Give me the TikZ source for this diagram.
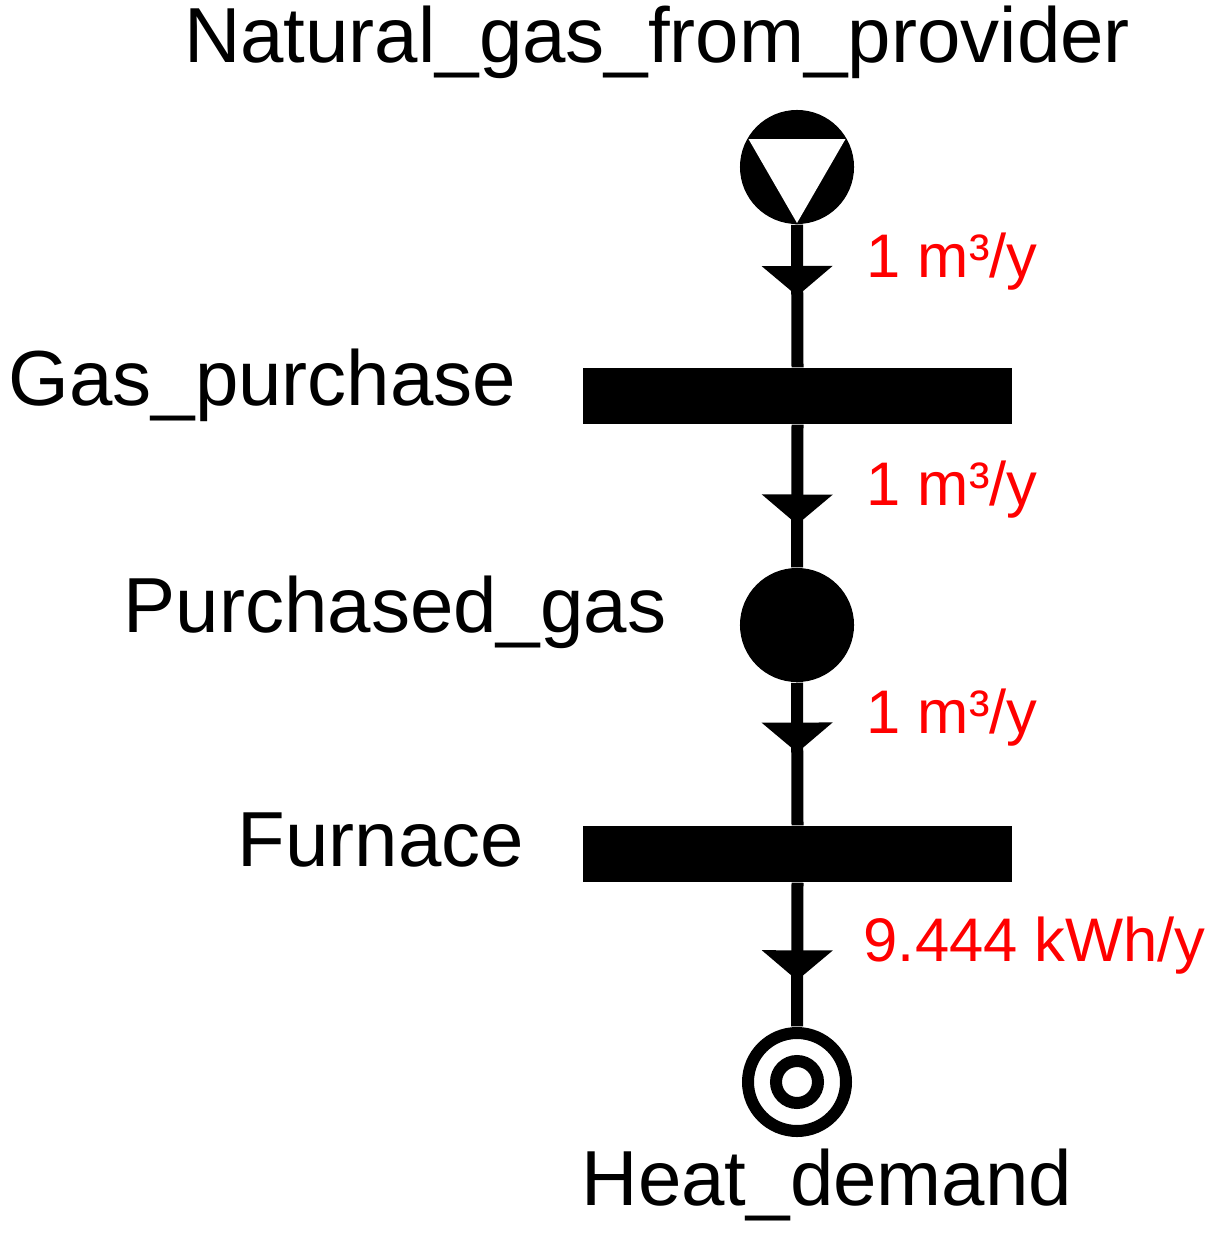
\documentclass[tikz,border=0pt]{standalone}
\usepackage{fontspec}
\setmainfont{Liberation Sans}
\usetikzlibrary{decorations.markings}
\definecolor{flowred}{RGB}{255,0,0}
\begin{document}
\begin{tikzpicture}[x=0.01cm,y=-0.01cm,
  lbl/.style={font=\fontsize{22.2}{26}\selectfont,inner sep=0pt},
  flow/.style={font=\fontsize{17.5}{21}\selectfont,text=flowred,inner sep=0pt,anchor=west},
  bar/.style={rectangle,fill=black,minimum width=4.29cm,minimum height=0.56cm,inner sep=0pt},
  conn/.style={line width=0.12cm,postaction={decorate},decoration={markings,
    mark=at position #1 with {\fill (0,0)--(-0.3cm,0.355cm)--(-0.3cm,-0.355cm)--cycle;}}}]
\useasboundingbox (0,0) rectangle (1218,1236);
% nodes
\node[circle,fill=black,minimum size=1.14cm,inner sep=0pt] (src) at (797,167) {};
\fill[white] (748.5,139) -- (845.5,139) -- (797,223) -- cycle;
\node[bar] (gp) at (797.5,396) {};
\node[circle,fill=black,minimum size=1.14cm,inner sep=0pt] (pg) at (797,625) {};
\node[bar] (fu) at (797.5,854) {};
\node[circle,minimum size=1.1cm,inner sep=0pt] (hd) at (797,1082) {};
\draw[line width=0.12cm] (hd.center) circle (49);
\draw[line width=0.12cm] (hd.center) circle (21);
% connectors
\draw[conn=0.5] (src.south) -- (gp.north);
\draw[conn=0.7] (gp.south) -- (pg.north);
\draw[conn=0.49] (pg.south) -- (fu.north);
\draw[conn=0.68] (fu.south) -- (hd.north);
% labels
\node[lbl] (l1) at (657,42) {Natural\_gas\_from\_provider};
\node[lbl,anchor=east] (l2) at (517,385) {Gas\_purchase};
\node[lbl] (l3) at (395,612) {Purchased\_gas};
\node[lbl] (l4) at (381,840) {Furnace};
\node[lbl] (l5) at (827,1185) {Heat\_demand};
\node[flow] (f1) at (866,262) {1 m³/y};
\node[flow] (f2) at (866,490) {1 m³/y};
\node[flow] (f3) at (866,718) {1 m³/y};
\node[flow] (f4) at (863,946) {9.444 kWh/y};
\end{tikzpicture}
\end{document}
